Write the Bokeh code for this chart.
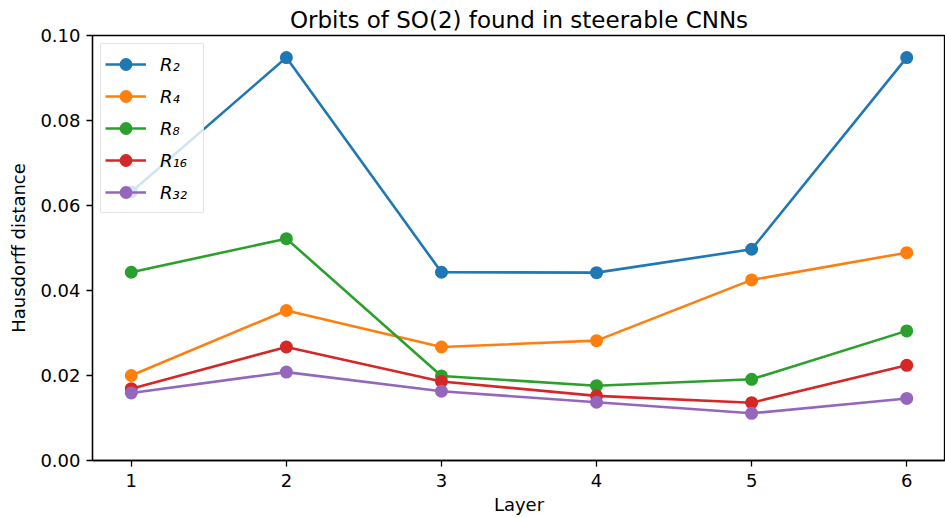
from bokeh.plotting import figure
from bokeh.models import FixedTicker, PrintfTickFormatter, Range1d, Legend, LegendItem
from bokeh.embed import file_html
from bokeh.resources import INLINE

layers = [1, 2, 3, 4, 5, 6]
series_names = ["R₂", "R₄", "R₈", "R₁₆", "R₃₂"]
r2 = [0.0632, 0.0948, 0.0443, 0.0442, 0.0497, 0.0948]
r4 = [0.0200, 0.0353, 0.0267, 0.0282, 0.0425, 0.0489]
r8 = [0.0443, 0.0522, 0.0199, 0.0176, 0.0191, 0.0305]
r16 = [0.0169, 0.0267, 0.0186, 0.0152, 0.0136, 0.0224]
r32 = [0.0159, 0.0208, 0.0163, 0.0137, 0.0111, 0.0146]
y_ticks = [0.0, 0.02, 0.04, 0.06, 0.08, 0.10]

colors = ["#1f77b4", "#ff7f0e", "#2ca02c", "#d62728", "#9467bd"]
FONT = "DejaVu Sans"

p = figure(width=945, height=517, output_backend="svg", toolbar_location=None,
           title="Orbits of SO(2) found in steerable CNNs",
           x_range=Range1d(0.75, 6.25), y_range=Range1d(0.0, 0.10),
           min_border_left=92, min_border_right=0, min_border_top=35, min_border_bottom=0)

p.title.align = "center"
p.title.text_font = FONT
p.title.text_font_size = "23px"
p.title.text_font_style = "normal"
p.title.text_color = "black"
p.title.standoff = 6

p.grid.visible = False
p.outline_line_color = "black"
p.outline_line_width = 1.3

for ax in (p.xaxis[0], p.yaxis[0]):
    ax.axis_line_color = "black"
    ax.axis_line_width = 1.3
    ax.major_tick_line_color = "black"
    ax.major_tick_line_width = 1.3
    ax.major_tick_out = 6
    ax.major_tick_in = 0
    ax.minor_tick_line_color = None
    ax.major_label_text_font = FONT
    ax.major_label_text_font_size = "18px"
    ax.major_label_text_color = "black"
    ax.axis_label_text_font = FONT
    ax.axis_label_text_font_size = "18px"
    ax.axis_label_text_font_style = "normal"
    ax.axis_label_text_color = "black"

p.xaxis.ticker = FixedTicker(ticks=layers)
p.xaxis.axis_label = "Layer"
p.xaxis.major_label_standoff = 7
p.xaxis.axis_label_standoff = 4
p.xaxis.major_label_text_line_height = 1.0
p.xaxis.axis_label_text_line_height = 1.0
p.yaxis.ticker = FixedTicker(ticks=y_ticks)
p.yaxis.formatter = PrintfTickFormatter(format="%.2f")
p.yaxis.axis_label = "Hausdorff distance"
p.yaxis.major_label_standoff = 6
p.yaxis.axis_label_standoff = 8

items = []
for name, vals, c in zip(series_names, [r2, r4, r8, r16, r32], colors):
    l = p.line(layers, vals, line_color=c, line_width=2.6)
    s = p.scatter(layers, vals, size=13, fill_color=c, line_color=c, line_width=0)
    items.append(LegendItem(label=name, renderers=[l, s]))

legend = Legend(items=items, location="top_left")
legend.label_text_font = FONT
legend.label_text_font_size = "18px"
legend.label_text_font_style = "italic"
legend.label_text_color = "black"
legend.glyph_width = 41
legend.glyph_height = 32
legend.label_height = 32
legend.label_width = 39
legend.spacing = 0
legend.padding = 4
legend.margin = 8
legend.label_standoff = 14
legend.border_line_color = "#cccccc"
legend.border_line_width = 1
legend.background_fill_color = "white"
legend.background_fill_alpha = 0.8
p.add_layout(legend)

open("out.html", "w").write(file_html(p, INLINE))
